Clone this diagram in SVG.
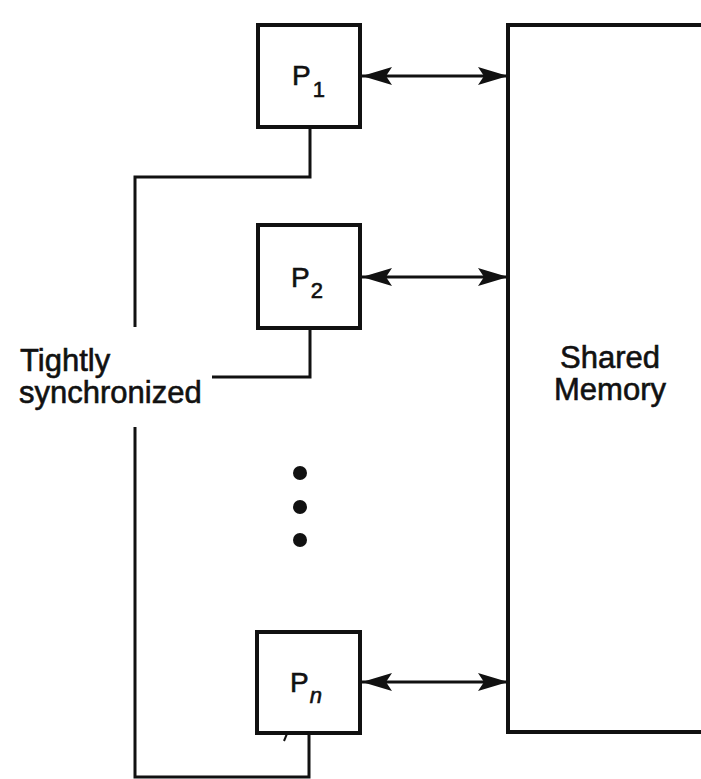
<svg xmlns="http://www.w3.org/2000/svg" width="701" height="779" viewBox="0 0 701 779">
  <style>
    .box { fill: #fff; stroke: #111; stroke-width: 4; }
    .mem { fill: #fff; stroke: #111; stroke-width: 4; }
    .wire { fill: none; stroke: #111; stroke-width: 3; }
    .arrow { fill: none; stroke: #111; stroke-width: 3; marker-start: url(#head); marker-end: url(#head); }
    .lbl { font-family: "Liberation Sans", Arial, Helvetica, sans-serif; fill: #111; stroke: #111; stroke-width: 0.6; }
    .big { font-size: 31px; }
    .p { font-size: 28px; }
    .sub { font-size: 22px; }
    .dot { fill: #111; }
  </style>
  <defs>
    <marker id="head" viewBox="0 0 30 18" markerWidth="30" markerHeight="18" refX="30" refY="9" orient="auto-start-reverse" markerUnits="userSpaceOnUse">
      <path d="M0,0 L30,9 L0,18 L6,9 z" fill="#111"/>
    </marker>
  </defs>

  <g id="memory">
    <rect class="mem" x="508" y="25" width="230" height="707"/>
    <text class="lbl big" text-anchor="middle"><tspan x="610" y="368">Shared</tspan><tspan x="610" y="400">Memory</tspan></text>
  </g>

  <g id="connectors">
    <line class="arrow" x1="362" y1="76" x2="508" y2="76"/>
    <line class="arrow" x1="362" y1="277" x2="508" y2="277"/>
    <line class="arrow" x1="362" y1="682" x2="508" y2="682"/>
    <polyline class="wire" points="310,127 310,177 135,177 135,327"/>
    <polyline class="wire" points="135,427 135,777 309,777 309,733"/>
    <polyline class="wire" points="310,328 310,377 212,377"/>
    <line class="wire" x1="293" y1="719" x2="284" y2="741" style="stroke-width:2"/>
  </g>

  <g id="p1">
    <rect class="box" x="258" y="25" width="102" height="102"/>
    <text class="lbl p" x="292" y="85">P<tspan class="sub" dx="2" dy="12">1</tspan></text>
  </g>

  <g id="p2">
    <rect class="box" x="258" y="225" width="102" height="103"/>
    <text class="lbl p" x="291" y="287">P<tspan class="sub" dx="1" dy="11">2</tspan></text>
  </g>

  <g id="dots">
    <circle class="dot" cx="300" cy="473" r="7"/>
    <circle class="dot" cx="300" cy="507" r="7"/>
    <circle class="dot" cx="300" cy="540" r="7"/>
  </g>

  <g id="pn">
    <rect class="box" x="257" y="632" width="103" height="101"/>
    <text class="lbl p" x="290" y="692">P<tspan class="sub" dx="1" dy="11" font-style="italic">n</tspan></text>
  </g>

  <g id="label-sync">
    <text class="lbl big"><tspan x="20" y="371">Tightly</tspan><tspan x="19" y="403">synchronized</tspan></text>
  </g>
</svg>
